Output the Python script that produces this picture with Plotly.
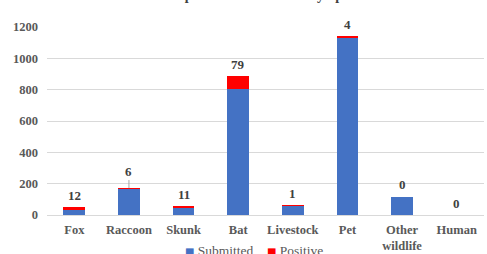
import plotly.graph_objects as go

categories = ["Fox", "Raccoon", "Skunk", "Bat", "Livestock", "Pet", "Other<br>wildlife", "Human"]
submitted = [38, 166, 46, 806, 62, 1134, 117, 0]
positive = [12, 6, 11, 79, 1, 4, 0, 0]
label_text = ["12", "6", "11", "79", "1", "4", "0", "0"]
y_ticks = [0, 200, 400, 600, 800, 1000, 1200]
series_names = ["Submitted", "Positive"]
series_colors = ["#4472C4", "#FF0000"]

FONT = "Liberation Serif"
GRAY = "#595959"

fig = go.Figure()
fig.add_trace(go.Bar(x=categories, y=submitted, name=series_names[0], showlegend=False,
                     marker=dict(color=series_colors[0], line=dict(width=0))))
fig.add_trace(go.Bar(x=categories, y=positive, name=series_names[1], showlegend=False,
                     marker=dict(color=series_colors[1], line=dict(width=0))))

totals = [s + p for s, p in zip(submitted, positive)]
for c, t, lab in zip(categories, totals, label_text):
    if c == "Raccoon":
        fig.add_annotation(x=c, y=t, text="<b>%s</b>" % lab, showarrow=True,
                           arrowhead=0, arrowwidth=1, arrowcolor="#A6A6A6",
                           ax=0, ay=-17, standoff=0,
                           font=dict(family=FONT, size=13, color="#404040"))
    else:
        fig.add_annotation(x=c, y=t, text="<b>%s</b>" % lab, showarrow=False,
                           yanchor="middle", yshift=12,
                           font=dict(family=FONT, size=13, color="#404040"))

# chart title (mostly above the visible area, as in the reference)
fig.add_annotation(text="<b>Rabies Specimens Submitted by Species</b>",
                   xref="paper", yref="paper", x=0.47, y=1.168,
                   xanchor="center", yanchor="middle", showarrow=False,
                   font=dict(family=FONT, size=14, color="#404040"))

# legend drawn as text entries (small square markers as in the reference)
for name, col, xpos in zip(series_names, series_colors, [0.311, 0.499]):
    fig.add_annotation(
        text="<span style='color:%s;font-size:10px;font-family:DejaVu Sans'>■</span> "
             "%s" % (col, name),
        xref="paper", yref="paper", x=xpos, y=-0.19,
        xanchor="left", yanchor="middle", showarrow=False,
        font=dict(family=FONT, size=13.5, color=GRAY))

fig.update_layout(
    width=487, height=254,
    barmode="stack", bargap=0.6,
    margin=dict(l=47, r=3, t=27, b=39, autoexpand=False),
    paper_bgcolor="white", plot_bgcolor="white",
    font=dict(family=FONT, color=GRAY),
    showlegend=False,
    xaxis=dict(showgrid=False, showline=True, linecolor="#D9D9D9", ticks="",
               automargin=False, ticklabelstandoff=3,
               tickvals=categories, ticktext=["<b>%s</b>" % c for c in categories],
               tickfont=dict(family=FONT, size=12.5, color=GRAY)),
    yaxis=dict(range=[0, 1200], tickvals=y_ticks,
               ticktext=["<b>%d</b>" % v for v in y_ticks],
               showgrid=True, gridcolor="#D9D9D9", automargin=False,
               ticklabelstandoff=8,
               zeroline=False, showline=False, ticks="",
               tickfont=dict(family=FONT, size=12.5, color=GRAY)),
)

fig.write_html("out.html", config={"displayModeBar": False},
               post_script="document.body.style.margin='0';")
